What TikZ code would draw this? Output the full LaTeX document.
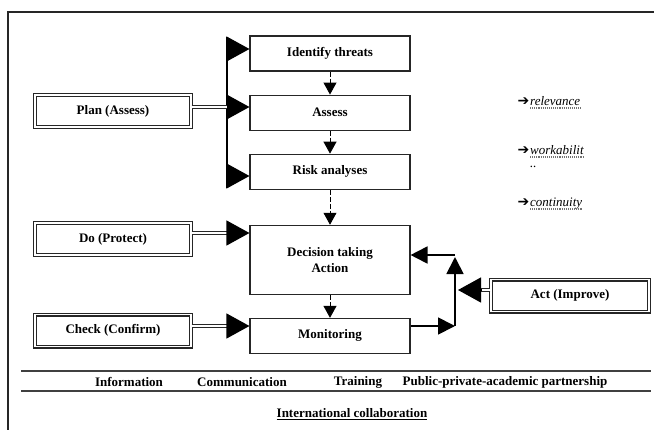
\documentclass[tikz,border=0pt]{standalone}
\usepackage{fontspec}
\setmainfont{Liberation Serif}
\newfontfamily\dingfont{DejaVu Sans}
\usetikzlibrary{arrows.meta,positioning}
\tikzset{
    %Define style for boxes
    stepbox/.style={
           rectangle,
           draw=black!85, line width=1.1pt,
           minimum width=160pt,
           minimum height=35pt,
           align=center,
           font=\fontsize{13}{16}\selectfont\bfseries},
    pdcabox/.style={
           rectangle,
           draw=black!85, line width=1.1pt,
           double, double distance=1.8pt,
           minimum width=156pt,
           minimum height=32pt,
           font=\fontsize{13}{16}\selectfont\bfseries},
    rowtext/.style={inner sep=0pt, font=\fontsize{13}{16}\selectfont\bfseries},
    seltext/.style={inner sep=0pt, font=\fontsize{13}{16}\selectfont\itshape},
    % Define arrow styles
    pil/.style={
           -{Triangle[length=23pt,width=25pt]},
           line width=1.2pt, draw=black},
    dashpil/.style={
           -{Triangle[length=12pt,width=13pt]},
           line width=0.9pt, dash pattern=on 5pt off 2pt},
    dblpil/.style={
           draw=black!85, line width=1.1pt,
           double, double distance=1.6pt},
    fbpil/.style={
           -{Triangle[length=17pt,width=17pt]},
           line width=1.8pt},
    rule/.style={draw=black!75, line width=1.1pt},
    squiggle/.style={draw=black!55, line width=1.1pt, densely dotted}
}
\begin{document}
\begin{tikzpicture}[x=1pt,y=-1pt,node distance=23pt]
\useasboundingbox (0,0) rectangle (654,429);
% frame
\draw[line width=1.5pt, black!85] (8,440) |- (662,12);

 %nodes
\node[stepbox] (identify) at (330,53.5) {Identify threats};
\node[stepbox, below=of identify] (assess) {Assess};
\node[stepbox, below=of assess] (risk) {Risk analyses};
\node[stepbox, below=35pt of risk, minimum height=69pt] (decision) {Decision taking\\Action};
\node[stepbox, below=of decision] (monitor) {Monitoring};

\node[pdcabox] (plan) at (113,111) {Plan (Assess)};
\node[pdcabox] (do) at (113,239) {Do (Protect)};
\node[pdcabox] (check) at (113,330.5) {Check (Confirm)};
\node[pdcabox, minimum width=158pt] (act) at (570,295.5) {Act (Improve)};

 %plan bar
\coordinate (bartop) at (227,37);
\coordinate (barbot) at (227,188);
\draw[line width=1.6pt] (bartop) -- (barbot);
\foreach \nd/\yy in {identify/49,assess/107,risk/176}
    \draw[pil] (bartop |- 0,\yy) -- (\nd.west |- 0,\yy);
\draw[dblpil] (plan.east |- 0,107) -- (barbot |- 0,107);

 %do and check
\coordinate (dojoin) at (227,233);
\coordinate (checkjoin) at (227,326);
\draw[dblpil] (do.east |- dojoin) -- (dojoin);
\draw[pil] (dojoin) -- (decision.west |- dojoin);
\draw[dblpil] (check.east |- checkjoin) -- (checkjoin);
\draw[pil] (checkjoin) -- (monitor.west |- checkjoin);

 %steps
\path[dashpil]
    (identify) edge (assess)
    (assess) edge (risk)
    (risk) edge (decision)
    (decision) edge (monitor);

 %feedback
\coordinate (fbbot) at (455,326);
\coordinate (fbtop) at (455,255);
\coordinate (actjoin) at (481,290);
\draw[fbpil] (monitor.east |- fbbot) -- (fbbot);
\draw[fbpil, shorten >=2pt] (fbbot) -- (fbtop);
\draw[fbpil] (fbtop) -- (decision.east |- fbtop);
\draw[dblpil] (act.west |- actjoin) -- (actjoin);
\draw[pil, shorten >=3pt] (actjoin) -- (fbbot |- actjoin);

 %criteria
\node[seltext, anchor=base west] (rel) at (530,105) {relevance};
\node[seltext, anchor=base west] (work) at (530,154) {workabilit};
\node[seltext, anchor=base west] (workdots) at (530,167) {..};
\node[seltext, anchor=base west] (cont) at (530,206) {continuity};
\foreach \nd in {rel,work,cont}{
    \node[inner sep=0pt, anchor=base east, font=\dingfont\bfseries\fontsize{14}{16}\selectfont] at ([xshift=-0.5pt]\nd.base west) {➔};
    \draw[squiggle] ([yshift=-3pt]\nd.base west) -- ([yshift=-3pt]\nd.base east);
}

 %bottom rows
\coordinate (rulea) at (21,371);
\coordinate (ruleb) at (21,391);
\draw[rule] (rulea) -- (rulea -| 651,0);
\draw[rule] (ruleb) -- (ruleb -| 651,0);
\node[rowtext] (info) at (129,382) {Information};
\node[rowtext] (comm) at (242,382) {Communication};
\node[rowtext] (train) at (358,382) {Training};
\node[rowtext] (ppa) at (505,382) {Public-private-academic partnership};
\node[rowtext] (intl) at (352,414) {\underline{International collaboration}};
\end{tikzpicture}
\end{document}
